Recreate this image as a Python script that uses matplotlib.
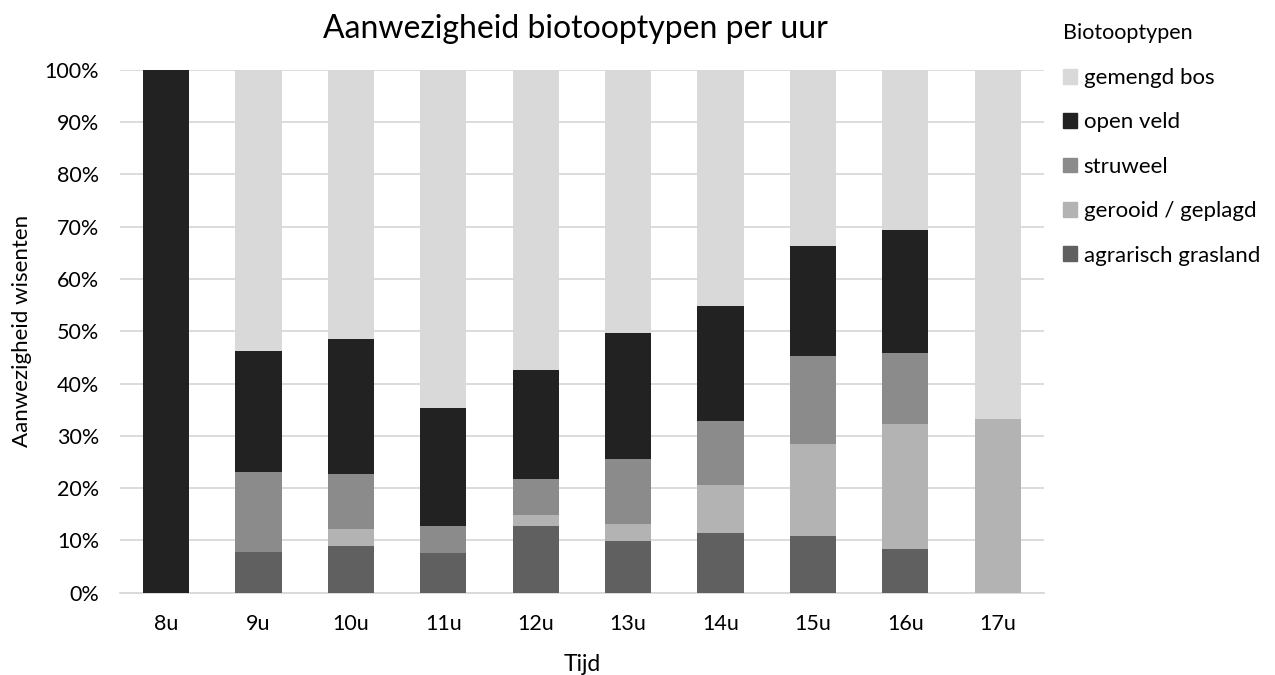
import matplotlib.pyplot as plt
import numpy as np
from matplotlib.patches import Patch
from matplotlib.ticker import PercentFormatter

plt.rcParams['font.family'] = ['Lato', 'DejaVu Sans']

uren = ['8u', '9u', '10u', '11u', '12u', '13u', '14u', '15u', '16u', '17u']

# aandeel per biotooptype (%), van onder naar boven gestapeld
agrarisch = [0, 7.7, 9.0, 7.6, 12.8, 9.8, 11.4, 10.8, 8.4, 0]
gerooid = [0, 0, 3.2, 0, 2.1, 3.4, 9.2, 17.6, 23.9, 33.3]
struweel = [0, 15.4, 10.5, 5.1, 6.9, 12.4, 12.3, 16.9, 13.5, 0]
open_veld = [100, 23.1, 25.8, 22.7, 20.8, 24.0, 21.9, 21.0, 23.6, 0]
gemengd_bos = [0, 53.8, 51.4, 64.6, 57.4, 50.4, 45.2, 33.7, 30.6, 66.7]

series = [
    ('agrarisch grasland', agrarisch, '#606060'),
    ('gerooid / geplagd', gerooid, '#b3b3b3'),
    ('struweel', struweel, '#8b8b8b'),
    ('open veld', open_veld, '#222222'),
    ('gemengd bos', gemengd_bos, '#d9d9d9'),
]

fig = plt.figure(figsize=(12.75, 6.75), dpi=100)
ax = fig.add_axes([0.0941, 0.1219, 0.7247, 0.7748])

x = np.arange(len(uren))
bottom = np.zeros(len(uren))
for naam, vals, kleur in series:
    vals = np.array(vals)
    ax.bar(x, vals, 0.5, bottom=bottom, color=kleur, label=naam, zorder=3)
    bottom += vals

ax.set_xlim(-0.5, len(uren) - 0.5)
ax.set_ylim(0, 100)
ax.set_yticks(np.arange(0, 101, 10))
ax.yaxis.set_major_formatter(PercentFormatter(decimals=0))
ax.set_xticks(x)
ax.set_xticklabels(uren)
ax.grid(axis='y', color='#d9d9d9', lw=1.3, zorder=0)
for s in ['top', 'right', 'left']:
    ax.spines[s].set_visible(False)
ax.spines['bottom'].set_color('#d9d9d9')
ax.spines['bottom'].set_linewidth(1.3)
ax.tick_params(axis='y', length=0, labelsize=15.5, pad=15)
ax.tick_params(axis='x', length=0, labelsize=15.5, pad=15)

ax.set_xlabel('Tijd', fontsize=16.5, labelpad=15)
ax.set_ylabel('Aanwezigheid wisenten', fontsize=16, labelpad=9)
fig.text(0.451, 0.957, 'Aanwezigheid biotooptypen per uur', fontsize=23,
         ha='center', va='center')

handles = [Patch(color=k, label=n) for n, v, k in series[::-1]]
leg = fig.legend(handles=handles, title='Biotooptypen', loc='upper left',
                 bbox_to_anchor=(0.823, 0.985), frameon=False, fontsize=16,
                 title_fontsize=15.5, alignment='left', handlelength=0.65,
                 handleheight=0.65, handletextpad=0.3, labelspacing=1.1,
                 borderaxespad=0.2)

fig.savefig('out.png', dpi=100)
